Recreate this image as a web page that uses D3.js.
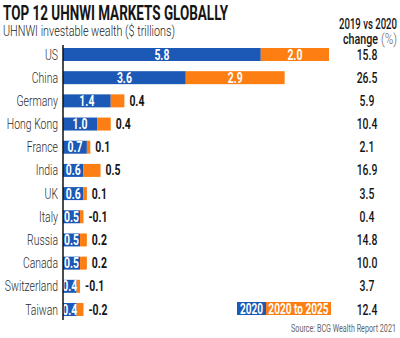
<!DOCTYPE html>
<html>
<head>
<meta charset="utf-8">
<script src="https://cdn.jsdelivr.net/npm/d3@7"></script>
<style>
	html, body { margin: 0; padding: 0; background: #fff; }
	svg { display: block; font-family: Roboto, 'Noto Sans', sans-serif; }
</style>
</head>
<body>
<svg id="chart" width="400" height="338"></svg>
<script>
const countries = ['US', 'China', 'Germany', 'Hong Kong', 'France', 'India', 'UK', 'Italy', 'Russia', 'Canada', 'Switzerland', 'Taiwan'];
const wealth2020 = [5.8, 3.6, 1.4, 1.0, 0.7, 0.6, 0.6, 0.5, 0.5, 0.5, 0.4, 0.4];
const growth2025 = [2.0, 2.9, 0.4, 0.4, 0.1, 0.5, 0.1, -0.1, 0.2, 0.2, -0.1, -0.2];
const change1920 = ['15.8', '26.5', '5.9', '10.4', '2.1', '16.9', '3.5', '0.4', '14.8', '10.0', '3.7', '12.4'];

const BLUE = '#1c58b5';
const ORANGE = '#fd7e12';
// Horizontal squeeze to get a condensed look from a regular face
const SQUEEZE = 0.72;

const svg = d3.select('#chart');

const x = d3.scaleLinear().domain([0, 8]).range([63, 63 + 8 * 34.1]);
const y = d3.scaleBand().domain(countries).range([42.9, 321.1]).paddingInner(0.44).paddingOuter(0.22);

const rows = countries.map((c, i) => ({ c, a: wealth2020[i], b: growth2025[i], chg: change1920[i] }));

// Header texts
svg.append('text')
	.attr('class', 'fixed')
	.attr('x', 3).attr('y', 20)
	.attr('font-size', 21).attr('font-weight', 'bold').attr('fill', '#151515')
	.attr('textLength', 225).attr('lengthAdjust', 'spacingAndGlyphs')
	.text('TOP 12 UHNWI MARKETS GLOBALLY');

svg.append('text')
	.attr('class', 'fixed')
	.attr('x', 3).attr('y', 36)
	.attr('font-size', 14).attr('font-weight', 300).attr('fill', '#222')
	.attr('textLength', 172).attr('lengthAdjust', 'spacingAndGlyphs')
	.text('UHNWI investable wealth ($ trillions)');

svg.append('text')
	.attr('class', 'fixed')
	.attr('x', 339).attr('y', 29)
	.attr('font-size', 15).attr('font-weight', 500).attr('fill', '#151515')
	.attr('textLength', 58).attr('lengthAdjust', 'spacingAndGlyphs')
	.text('2019 vs 2020');

svg.append('text')
	.attr('class', 'fixed')
	.attr('x', 343).attr('y', 44)
	.attr('font-size', 15).attr('font-weight', 500).attr('fill', '#151515')
	.attr('textLength', 35).attr('lengthAdjust', 'spacingAndGlyphs')
	.text('change');

svg.append('text')
	.attr('class', 'fixed')
	.attr('x', 381).attr('y', 44)
	.attr('font-size', 15).attr('font-weight', 300).attr('fill', '#666')
	.attr('textLength', 16).attr('lengthAdjust', 'spacingAndGlyphs')
	.text('(%)');

// Bars
const row = svg.append('g').selectAll('g').data(rows).join('g')
	.attr('transform', d => `translate(0,${y(d.c)})`);

const bh = y.bandwidth();
const gw = d => x(Math.abs(d.b)) - x(0);

row.append('rect')
	.attr('x', x(0)).attr('y', 0)
	.attr('width', d => x(d.a) - x(0)).attr('height', bh)
	.attr('fill', BLUE);

row.append('rect')
	.attr('x', d => x(d.a)).attr('y', 0)
	.attr('width', gw).attr('height', bh)
	.attr('fill', ORANGE);

row.append('text')
	.attr('x', d => (x(0) + x(d.a)) / 2).attr('y', bh / 2 + 5)
	.attr('text-anchor', 'middle').attr('font-size', 14.5).attr('font-weight', 'bold').attr('fill', '#fff')
	.text(d => d.a.toFixed(1));

// Growth labels sit inside the orange bar when it is wide enough
row.append('text')
	.attr('x', d => (gw(d) > 40 ? x(d.a) + gw(d) / 2 : x(d.a) + gw(d) + 5))
	.attr('y', bh / 2 + 5)
	.attr('text-anchor', d => (gw(d) > 40 ? 'middle' : 'start'))
	.attr('font-size', 14.5).attr('font-weight', 'bold')
	.attr('fill', d => (gw(d) > 40 ? '#fff' : '#151515'))
	.text(d => d.b.toFixed(1));

row.append('text')
	.attr('x', 58).attr('y', bh / 2 + 5).attr('text-anchor', 'end')
	.attr('font-size', 14.5).attr('font-weight', 300).attr('fill', '#2a2a2a')
	.text(d => d.c);

row.append('text')
	.attr('x', 367).attr('y', bh / 2 + 5).attr('text-anchor', 'middle')
	.attr('font-size', 14.5).attr('font-weight', 500).attr('fill', '#151515')
	.text(d => d.chg);

// Axis line
svg.append('line')
	.attr('x1', x(0)).attr('x2', x(0))
	.attr('y1', 45).attr('y2', 320)
	.attr('stroke', '#111').attr('stroke-width', 1.5);

// Legend
const legend = svg.append('g').attr('transform', 'translate(237,302)');
legend.append('rect').attr('width', 29).attr('height', 13).attr('fill', BLUE);
legend.append('rect').attr('x', 29).attr('width', 65).attr('height', 13).attr('fill', ORANGE);
legend.append('text').attr('x', 14.5).attr('y', 11.5).attr('text-anchor', 'middle')
	.attr('font-size', 14).attr('font-weight', 'bold').attr('fill', '#fff').text('2020');
legend.append('text').attr('x', 61.5).attr('y', 11.5).attr('text-anchor', 'middle')
	.attr('font-size', 14).attr('font-weight', 'bold').attr('fill', '#fff').text('2020 to 2025');

svg.append('text')
	.attr('x', 396).attr('y', 332).attr('text-anchor', 'end')
	.attr('font-size', 10).attr('fill', '#666')
	.text('Source: BCG Wealth Report 2021');

svg.selectAll('text:not(.fixed)').each(function () {
	const w = this.getComputedTextLength();
	d3.select(this).attr('textLength', w * SQUEEZE).attr('lengthAdjust', 'spacingAndGlyphs');
});
</script>
</body>
</html>
